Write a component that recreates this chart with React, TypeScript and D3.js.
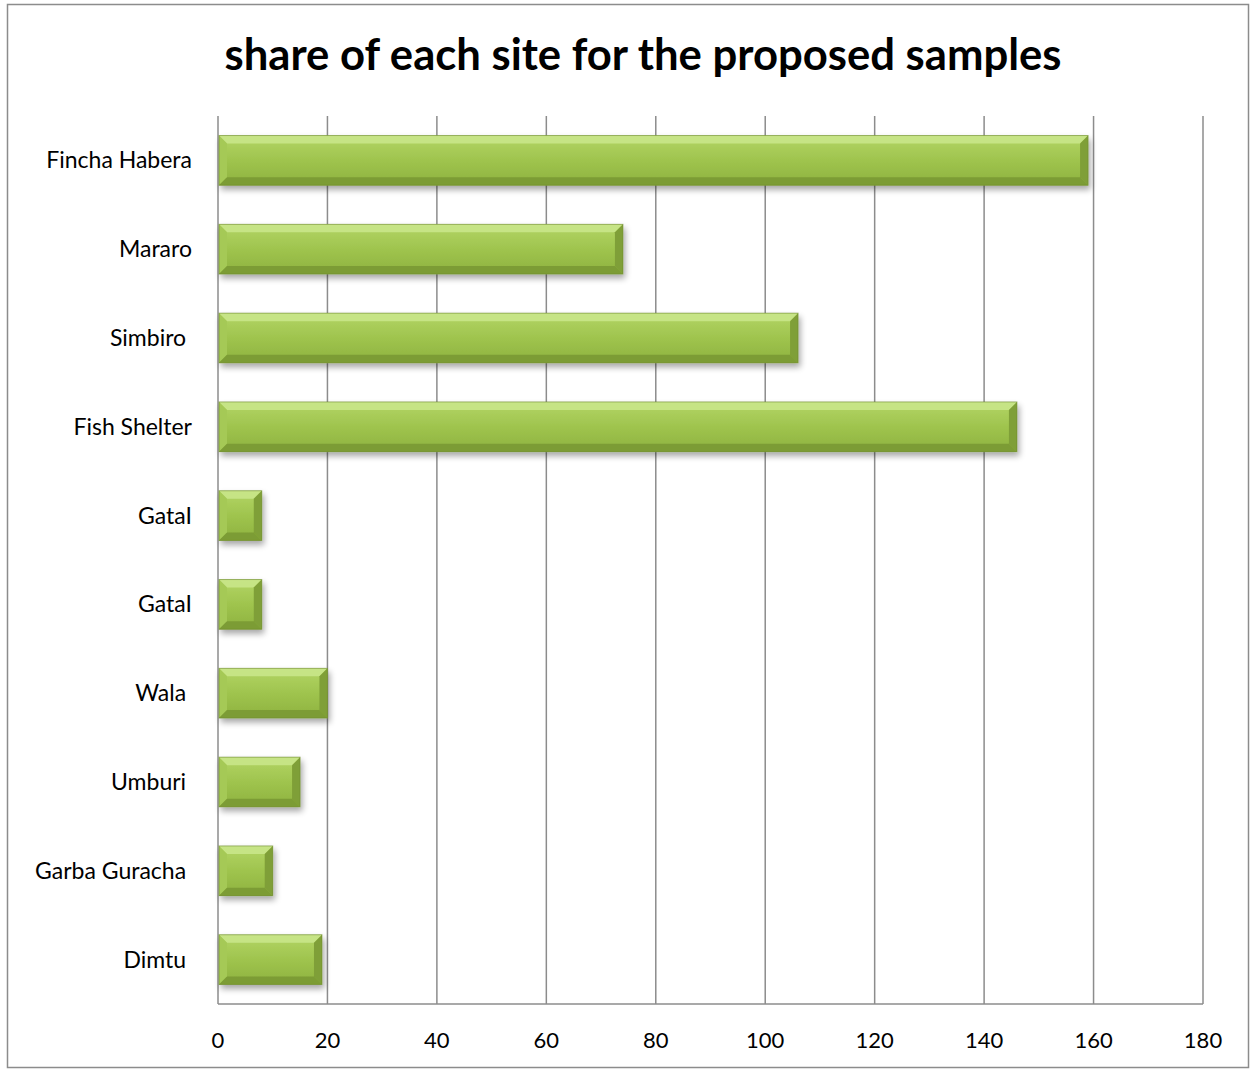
import React from "react";
import * as d3 from "d3";

const categories = [
  "Fincha Habera",
  "Mararo",
  "Simbiro ",
  "Fish Shelter",
  "GataI",
  "GataI",
  "Wala ",
  "Umburi ",
  "Garba Guracha ",
  "Dimtu ",
];
const values = [159, 74, 106, 146, 8, 8, 20, 15, 10, 19];
const xTicks = [0, 20, 40, 60, 80, 100, 120, 140, 160, 180];
const title = "share of each site for the proposed samples";

const W = 1252;
const H = 1070;
const left = 218;
const right = 1203;
const top = 116;
const bottom = 1004;
const FONT = "Lato, 'Open Sans', sans-serif";

export default function App() {
  const x = d3.scaleLinear().domain([0, 180]).range([left, right]);
  const y = d3
    .scaleBand<number>()
    .domain(d3.range(categories.length))
    .range([top, bottom])
    .paddingInner(0.44)
    .paddingOuter(0.22);
  const bw = y.bandwidth();
  const bev = 8;

  return (
    <svg
      width={W}
      height={H}
      style={{ position: "absolute", left: 0, top: 0, display: "block" }}
      xmlns="http://www.w3.org/2000/svg"
    >
      <defs>
        <linearGradient id="face" x1="0" y1="0" x2="0" y2="1">
          <stop offset="0" stopColor="#b3d565" />
          <stop offset="0.5" stopColor="#9fc44e" />
          <stop offset="1" stopColor="#8eb23e" />
        </linearGradient>
        <filter id="shadow" x="-10%" y="-30%" width="130%" height="180%">
          <feGaussianBlur in="SourceAlpha" stdDeviation="3" />
          <feOffset dx="2" dy="4" result="b" />
          <feComponentTransfer>
            <feFuncA type="linear" slope="0.35" />
          </feComponentTransfer>
          <feMerge>
            <feMergeNode />
            <feMergeNode in="SourceGraphic" />
          </feMerge>
        </filter>
      </defs>
      <rect x={0} y={0} width={W} height={H} fill="#ffffff" />
      <rect
        x={7.5}
        y={4.5}
        width={1241}
        height={1063}
        fill="#ffffff"
        stroke="#8c8c8c"
        strokeWidth={1.5}
      />
      <text
        x={643}
        y={70}
        textAnchor="middle"
        fontFamily={FONT}
        fontWeight="bold"
        fontSize={43}
        fill="#000"
        textLength={837}
        lengthAdjust="spacingAndGlyphs"
      >
        {title}
      </text>
      {/* grid lines */}
      {xTicks.slice(1).map((t) => (
        <line
          key={"g" + t}
          x1={x(t)}
          x2={x(t)}
          y1={top}
          y2={bottom}
          stroke="#8c8c8c"
          strokeWidth={1.5}
        />
      ))}
      {/* axes */}
      <line x1={left} x2={left} y1={top} y2={bottom} stroke="#8c8c8c" strokeWidth={1.5} />
      <line x1={left} x2={right} y1={bottom} y2={bottom} stroke="#8c8c8c" strokeWidth={1.5} />
      {/* bars */}
      {values.map((v, i) => {
        const x0 = x(0) + 1;
        const x1 = x(v);
        const y0 = y(i)!;
        const y1 = y0 + bw;
        const b = Math.min(bev, (x1 - x0) / 3);
        return (
          <g key={"b" + i} filter="url(#shadow)">
            <rect x={x0} y={y0} width={x1 - x0} height={bw} fill="url(#face)" />
            {/* top bevel */}
            <polygon
              points={`${x0},${y0} ${x1},${y0} ${x1 - b},${y0 + b} ${x0 + b},${y0 + b}`}
              fill="#c9e68a"
              opacity={0.9}
            />
            {/* left bevel */}
            <polygon
              points={`${x0},${y0} ${x0 + b},${y0 + b} ${x0 + b},${y1 - b} ${x0},${y1}`}
              fill="#a5c957"
            />
            {/* right bevel */}
            <polygon
              points={`${x1},${y0} ${x1},${y1} ${x1 - b},${y1 - b} ${x1 - b},${y0 + b}`}
              fill="#7f9f37"
            />
            {/* bottom bevel */}
            <polygon
              points={`${x0},${y1} ${x0 + b},${y1 - b} ${x1 - b},${y1 - b} ${x1},${y1}`}
              fill="#7c9c34"
            />
            <rect
              x={x0}
              y={y0}
              width={x1 - x0}
              height={bw}
              fill="none"
              stroke="#6e8a2e"
              strokeWidth={1}
              opacity={0.6}
            />
          </g>
        );
      })}
      {/* category labels */}
      {categories.map((c, i) => (
        <text
          key={"c" + i}
          x={192}
          y={y(i)! + bw / 2}
          dy="0.35em"
          textAnchor="end"
          fontFamily={FONT}
          fontSize={23}
          fill="#000"
          style={{ whiteSpace: "pre" }}
        >
          {c}
        </text>
      ))}
      {/* tick labels */}
      {xTicks.map((t) => (
        <text
          key={"t" + t}
          x={x(t)}
          y={1048}
          textAnchor="middle"
          fontFamily={FONT}
          fontSize={22}
          fill="#000"
        >
          {t}
        </text>
      ))}
    </svg>
  );
}
